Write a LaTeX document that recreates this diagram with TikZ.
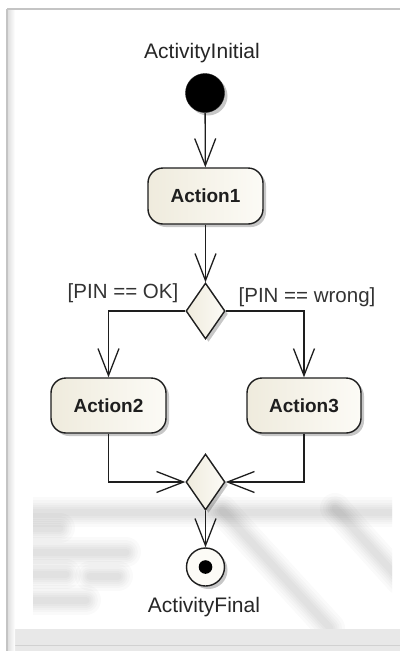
\documentclass[tikz,border=0pt]{standalone}
\usepackage{fontspec}
\setmainfont{Liberation Sans}
\usetikzlibrary{arrows.meta,shapes.geometric,shadows}

\definecolor{nodefillA}{HTML}{EFEBDD}
\definecolor{nodefillB}{HTML}{FCFBF6}
\definecolor{inkline}{HTML}{1E1E1E}
\definecolor{framegray}{HTML}{C4C4C4}

\tikzset{
  x=1pt, y=-1pt,
  every node/.style={inkline},
  softshadow/.style={drop shadow={shadow xshift=3pt, shadow yshift=-3pt, fill=black, opacity=0.22}},
  actionbox/.style={draw=inkline, line width=1.4pt, rounded corners=15pt,
    left color=nodefillA, right color=nodefillB, minimum width=115pt,
    minimum height=56pt, inner sep=0pt, softshadow,
    font=\fontsize{19}{22}\selectfont\bfseries},
  choice/.style={diamond, draw=inkline, line width=1.4pt,
    left color=nodefillA, right color=nodefillB, minimum width=39pt,
    minimum height=56pt, inner sep=0pt, softshadow},
  startdot/.style={circle, fill=black, draw=inkline, minimum size=39pt, inner sep=0pt, softshadow},
  enddot/.style={circle, draw=inkline, line width=1.4pt, fill=nodefillB,
    minimum size=38pt, inner sep=0pt, softshadow},
  caption/.style={font=\fontsize{21}{25}\selectfont, text=black!85},
  guard/.style={font=\fontsize{20.5}{24}\selectfont, text=black!80},
  flow/.style={draw=inkline, line width=1.3pt, -{Straight Barb[length=27pt, width=21pt, line width=1.3pt]}},
  haze/.style={line cap=round, draw=black, opacity=0.018}
}

\newcommand{\hazebar}[2]{%
  \foreach \w in {30,24,19,15,11,7}{\draw[haze, line width=\w pt] #1 -- #2;}}

\begin{document}
\begin{tikzpicture}
  \useasboundingbox (0,0) rectangle (400,651);
  \fill[white] (0,0) rectangle (400,651);

  % window frame
  \fill[black!9] (7,629) rectangle (400,651);
  \draw[black!18, line width=1pt] (7,645) -- (400,645);
  \shade[left color=black!12, right color=white] (8,10) rectangle (15,651);
  \draw[framegray, line width=2pt] (7,9) -- (400,9);
  \draw[framegray, line width=2pt] (7,9) -- (7,651);

  % faded backdrop behind the lower part
  \begin{scope}
    \clip (33,490) rectangle (392,628);
    \hazebar{(30,512)}{(392,512)}
    \hazebar{(30,528)}{(60,528)}
    \hazebar{(30,552)}{(126,552)}
    \hazebar{(30,574)}{(66,574)}
    \hazebar{(90,576)}{(118,576)}
    \hazebar{(30,600)}{(86,600)}
    \hazebar{(222,510)}{(330,628)}
    \hazebar{(335,508)}{(400,580)}
  \end{scope}

  % activity nodes
  \node[startdot] (init) at (205,93) {};
  \node[caption] (initlbl) at (202,53) {ActivityInitial};
  \node[actionbox] (a1) at (205.5,196) {Action1};
  \node[choice] (d1) at (205.5,311) {};
  \node[actionbox, minimum height=55pt] (a2) at (108.5,405.5) {Action2};
  \node[actionbox, minimum height=55pt, minimum width=114pt] (a3) at (304,405.5) {Action3};
  \node[choice] (d2) at (205.5,482) {};
  \node[enddot] (fin) at (205.5,567) {};
  \fill[black] (fin.center) circle (6.8pt);
  \node[caption] (finlbl) at (204,607) {ActivityFinal};

  % guards
  \node[guard] (gok) at (123,293) {[PIN == OK]};
  \node[guard] (gwrong) at (307,297) {[PIN == wrong]};

  % control flows
  \draw[flow] (init) -- (a1);
  \draw[flow] (a1) -- (d1);
  \draw[flow] (d1.west) -| (a2.north);
  \draw[flow] (d1.east) -| (a3.north);
  \draw[flow] (a2.south) |- (d2.west);
  \draw[flow] (a3.south) |- (d2.east);
  \draw[flow] (d2) -- (fin);
\end{tikzpicture}
\end{document}
